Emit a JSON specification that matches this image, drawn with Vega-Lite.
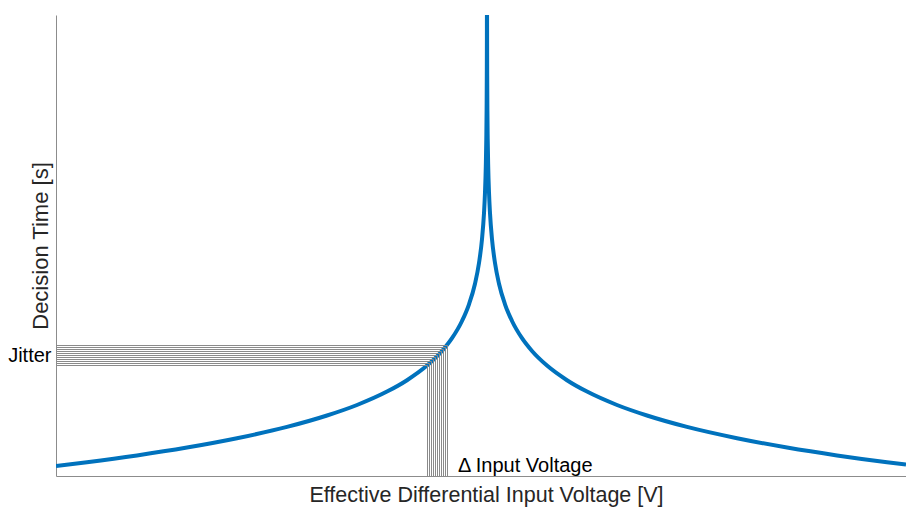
{
  "$schema": "https://vega.github.io/schema/vega-lite/v6.json",
  "width": 850,
  "height": 461,
  "autosize": {"type": "none"},
  "padding": {"left": 56, "top": 15, "right": 0, "bottom": 32},
  "background": "white",
  "config": {
    "view": {"stroke": null},
    "font": "Liberation Sans",
    "axis": {"grid": false, "ticks": false, "domainColor": "#8c8c8c", "domainWidth": 1, "titleFont": "Liberation Sans", "titleFontWeight": "normal", "titleColor": "#262626", "labelFont": "Liberation Sans"}
  },
  "datasets": {
    "curve": [
      {"v": -431, "t": 10.0}, {"v": -400, "t": 13.8}, {"v": -350, "t": 20.6}, {"v": -300, "t": 28.5},
      {"v": -250, "t": 37.8}, {"v": -200, "t": 49.1}, {"v": -160, "t": 60.5}, {"v": -130, "t": 71.0},
      {"v": -100, "t": 84.4}, {"v": -80, "t": 95.8}, {"v": -60, "t": 110.4}, {"v": -45, "t": 125.0},
      {"v": -35, "t": 137.8}, {"v": -25, "t": 155.0}, {"v": -18, "t": 171.7}, {"v": -12, "t": 192.3},
      {"v": -8, "t": 213.0}, {"v": -5, "t": 236.9}, {"v": -3, "t": 262.9}, {"v": -2, "t": 283.5},
      {"v": -1.2, "t": 309.5}, {"v": -0.7, "t": 337.0}, {"v": -0.4, "t": 365.4}, {"v": -0.2, "t": 400.7},
      {"v": -0.1, "t": 436.0}, {"v": -0.06, "t": 462.0},
      {"v": 0.06, "t": 462.0}, {"v": 0.1, "t": 436.0}, {"v": 0.2, "t": 400.7}, {"v": 0.4, "t": 365.4},
      {"v": 0.7, "t": 337.0}, {"v": 1.2, "t": 309.5}, {"v": 2, "t": 283.5}, {"v": 3, "t": 262.9},
      {"v": 5, "t": 236.9}, {"v": 8, "t": 213.0}, {"v": 12, "t": 192.3}, {"v": 18, "t": 171.7},
      {"v": 25, "t": 155.0}, {"v": 35, "t": 137.8}, {"v": 45, "t": 125.0}, {"v": 60, "t": 110.4},
      {"v": 80, "t": 95.8}, {"v": 100, "t": 84.4}, {"v": 130, "t": 71.0}, {"v": 160, "t": 60.5},
      {"v": 200, "t": 49.1}, {"v": 250, "t": 37.8}, {"v": 300, "t": 28.5}, {"v": 350, "t": 20.6},
      {"v": 400, "t": 13.8}, {"v": 419, "t": 11.5}
    ],
    "jitter": [
      {"v": -59.5, "t": 110.5}, {"v": -57.5, "t": 112.5}, {"v": -55.5, "t": 114.5}, {"v": -53.5, "t": 116.5},
      {"v": -51.5, "t": 118.5}, {"v": -49.5, "t": 120.5}, {"v": -47.5, "t": 122.5}, {"v": -45.5, "t": 124.5},
      {"v": -43.5, "t": 126.5}, {"v": -41.5, "t": 128.5}, {"v": -39.5, "t": 130.5}
    ],
    "notes": [
      {"v": -29, "t": 10, "label": "Δ Input Voltage"}
    ]
  },
  "encoding": {
    "x": {"field": "v", "type": "quantitative", "scale": {"domain": [-431, 419], "nice": false, "zero": false},
      "axis": {"labels": false, "title": "Effective Differential Input Voltage [V]", "titleFontSize": 21.5, "titlePadding": 8, "titleX": 430}},
    "y": {"field": "t", "type": "quantitative", "scale": {"domain": [0, 461], "nice": false},
      "axis": {"values": [120.7], "labelExpr": "'Jitter'", "labelFontSize": 20, "labelColor": "#000000", "labelPadding": 5,
        "title": "Decision Time [s]", "titleFontSize": 22, "titleX": -4}}
  },
  "layer": [
    {
      "data": {"name": "curve"},
      "mark": {"type": "line", "color": "#0072BD", "strokeWidth": 4, "interpolate": "monotone", "clip": true}
    },
    {
      "data": {"name": "jitter"},
      "mark": {"type": "rule", "color": "#8a8a8a", "strokeWidth": 1},
      "encoding": {
        "x": {"datum": -431},
        "x2": {"field": "v"}
      }
    },
    {
      "data": {"name": "jitter"},
      "mark": {"type": "rule", "color": "#8a8a8a", "strokeWidth": 1},
      "encoding": {
        "y": {"datum": 0},
        "y2": {"field": "t"}
      }
    },
    {
      "data": {"name": "notes"},
      "mark": {"type": "text", "align": "left", "baseline": "middle", "fontSize": 20, "color": "#000000", "font": "Liberation Sans"},
      "encoding": {"text": {"field": "label"}}
    }
  ]
}
